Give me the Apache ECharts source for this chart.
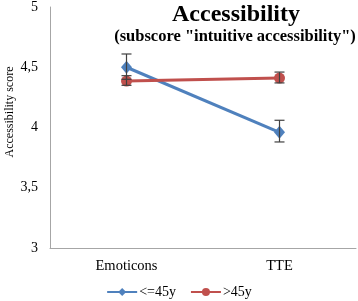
<!DOCTYPE html>
<html><head><meta charset="utf-8">
<script src="https://cdn.jsdelivr.net/npm/echarts@6/dist/echarts.min.js"></script>
<style>html,body{margin:0;padding:0;background:#fff}#c{width:358px;height:301px}</style>
</head><body><div id="c"></div>
<script>
const categories = ['Emoticons', 'TTE'];
const youngMeans = [4.50, 3.96];
const youngLow = [4.40, 3.88];
const youngHigh = [4.61, 4.06];
const oldMeans = [4.385, 4.41];
const oldLow = [4.35, 4.37];
const oldHigh = [4.43, 4.46];
const yTicks = [3, 3.5, 4, 4.5, 5];

const SERIF = '"Liberation Serif", "DejaVu Serif", serif';
const BLUE = '#4F81BD', RED = '#C0504D';

function errData(low, high) { return categories.map((c, i) => [i, low[i], high[i]]); }
function errRender(params, api) {
  const x = api.value(0);
  const lo = api.coord([x, api.value(1)]);
  const hi = api.coord([x, api.value(2)]);
  const cap = 5;
  const st = { stroke: '#404040', lineWidth: 1.2 };
  return { type: 'group', children: [
    { type: 'line', shape: { x1: lo[0], y1: lo[1], x2: hi[0], y2: hi[1] }, style: st },
    { type: 'line', shape: { x1: lo[0] - cap, y1: lo[1], x2: lo[0] + cap, y2: lo[1] }, style: st },
    { type: 'line', shape: { x1: hi[0] - cap, y1: hi[1], x2: hi[0] + cap, y2: hi[1] }, style: st }
  ]};
}

const chart = echarts.init(document.getElementById('c'), null, { renderer: 'canvas' });
chart.setOption({
  animation: false,
  title: [
    { text: 'Accessibility', left: 231, top: -2, textAlign: 'center',
      textStyle: { fontFamily: SERIF, fontWeight: 'bold', fontSize: 24, color: '#000' } },
    { text: '(subscore "intuitive accessibility")', left: 230, top: 23, textAlign: 'center',
      textStyle: { fontFamily: SERIF, fontWeight: 'bold', fontSize: 16.5, color: '#000' } }
  ],
  graphic: [
    { type: 'text', x: 10, y: 112, rotation: Math.PI / 2,
      style: { text: 'Accessibility score', fontFamily: SERIF, fontSize: 12, fill: '#000',
        textAlign: 'center', textVerticalAlign: 'middle' } }
  ],
  grid: { left: 50, right: 2, top: 6, bottom: 53 },
  legend: {
    top: 285, left: 'center', padding: 0, itemWidth: 30, itemHeight: 10, itemGap: 14,
    textStyle: { fontFamily: SERIF, fontSize: 14, color: '#000', padding: [0, 0, 0, -3] },
    data: ['<=45y', '>45y']
  },
  xAxis: {
    type: 'category', data: categories, boundaryGap: true,
    axisLine: { lineStyle: { color: '#A6A6A6', width: 1 } },
    axisTick: { show: false },
    axisLabel: { fontFamily: SERIF, fontSize: 14.5, color: '#000', margin: 11 }
  },
  yAxis: {
    type: 'value', min: 3, max: 5, interval: 0.5,
    axisLine: { show: true, lineStyle: { color: '#A6A6A6', width: 1 } },
    axisTick: { show: false },
    splitLine: { show: false },
    axisLabel: { fontFamily: SERIF, fontSize: 14, color: '#000', margin: 12,
      formatter: v => yTicks.includes(v) ? String(v).replace('.', ',') : '' }
  },
  series: [
    { name: '<=45y', type: 'line', data: youngMeans, symbol: 'diamond', symbolSize: [11, 13],
      lineStyle: { color: BLUE, width: 3 }, itemStyle: { color: BLUE }, z: 2 },
    { name: '>45y', type: 'line', data: oldMeans, symbol: 'circle', symbolSize: 11,
      lineStyle: { color: RED, width: 3 }, itemStyle: { color: RED }, z: 3 },
    { type: 'custom', data: errData(youngLow, youngHigh), renderItem: errRender, z: 5, silent: true },
    { type: 'custom', data: errData(oldLow, oldHigh), renderItem: errRender, z: 5, silent: true }
  ]
});
</script></body></html>
